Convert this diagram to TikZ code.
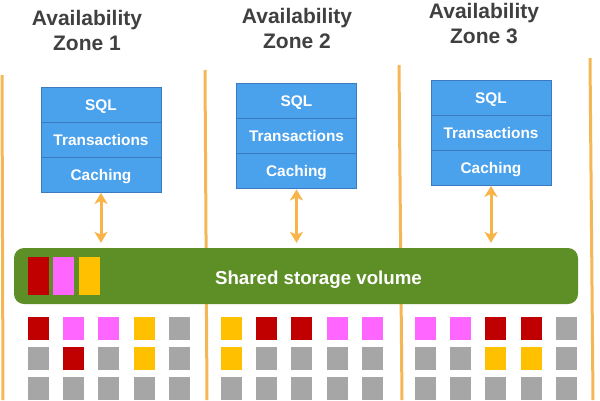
\documentclass[tikz,border=0pt]{standalone}
\usepackage{fontspec}
\setmainfont{Liberation Sans}
\usetikzlibrary{arrows.meta}
\definecolor{zoneorange}{RGB}{245,183,85}
\definecolor{arroworange}{RGB}{248,180,72}
\definecolor{layerblue}{RGB}{74,161,236}
\definecolor{layeredge}{RGB}{60,122,192}
\definecolor{barGreen}{RGB}{94,143,39}
\definecolor{cred}{RGB}{192,0,0}
\definecolor{cpink}{RGB}{255,102,255}
\definecolor{cyellow}{RGB}{255,192,0}
\definecolor{cgray}{RGB}{166,166,166}
\definecolor{titlegray}{RGB}{64,64,64}
\tikzset{
  zonetitle/.style={anchor=north, inner sep=0pt, align=center, text=titlegray,
    font=\fontsize{21}{25}\selectfont\bfseries},
  layer/.style={fill=layerblue, draw=layeredge, line width=0.8pt, minimum width=120pt,
    minimum height=35pt, inner sep=0pt, text height=11pt, text depth=0pt, text=white,
    font=\fontsize{15.4}{18}\selectfont\bfseries},
  zoneline/.style={draw=zoneorange, line width=3pt},
  biarrow/.style={draw=arroworange, line width=3pt,
    {Stealth[width=13pt,length=11pt,inset=3pt]}-{Stealth[width=13pt,length=11pt,inset=3pt]},
    shorten <=0.5pt, shorten >=5pt},
  bar/.style={fill=barGreen, rounded corners=10pt, minimum width=564pt, minimum height=56pt, inner sep=0pt},
  barlabel/.style={text=white, inner sep=0pt, font=\fontsize{18.7}{22}\selectfont\bfseries},
  blockcell/.style={minimum width=21pt, minimum height=38pt, inner sep=0pt},
  cell/.style={minimum width=21pt, minimum height=22.5pt, inner sep=0pt}
}
\begin{document}
\begin{tikzpicture}[x=1pt,y=-1pt]
\useasboundingbox (0,0) rectangle (600,400);
\clip (0,0) rectangle (600,400);
\fill[white] (0,0) rectangle (600,400);
% zone lines
\coordinate (l0a) at (2,75);   \coordinate (l0b) at (3,400);
\coordinate (l1a) at (205,70); \coordinate (l1b) at (207,400);
\coordinate (l2a) at (399,65); \coordinate (l2b) at (402,400);
\coordinate (l3a) at (590,58); \coordinate (l3b) at (593,400);
\foreach \i in {0,1,2,3} {\draw[zoneline] (l\i a) -- (l\i b);}
% titles
\node[zonetitle] (title1) at (87,10) {Availability\\Zone 1};
\node[zonetitle] (title2) at (297,8) {Availability\\Zone 2};
\node[zonetitle] (title3) at (484,3) {Availability\\Zone 3};
% bar
\node[bar] (bar) at (296,276) {};
\node[barlabel] (barlabel) at (318.5,280) {Shared storage volume};
\node[blockcell, fill=cred] (b1) at (38.5,276) {};
\node[blockcell, fill=cpink] (b2) at (63.5,276) {};
\node[blockcell, fill=cyellow] (b3) at (89,276) {};
% stacks
\foreach \z/\x/\t in {1/101/87, 2/296.5/83.5, 3/491/80} {
  \node[layer] (sql\z) at (\x,\t+17.5) {SQL};
  \node[layer] (tr\z) at (\x,\t+52.5) {Transactions};
  \node[layer] (ca\z) at (\x,\t+87.5) {Caching};
  \draw[biarrow] (ca\z.south) -- (ca\z.south |- bar.north);
}
% storage cells
\foreach \z/\xs/\ra/\rb in {
  1/28/{cred,cpink,cpink,cyellow,cgray}/{cgray,cred,cgray,cyellow,cgray},
  2/221/{cyellow,cred,cred,cpink,cpink}/{cyellow,cgray,cgray,cgray,cgray},
  3/415/{cpink,cpink,cred,cred,cgray}/{cgray,cgray,cyellow,cyellow,cgray}} {
  \foreach \c [count=\i from 0] in \ra {
    \node[cell, fill=\c] (c\z-1-\i) at (\xs+35.2*\i+10.5,328.25) {};
  }
  \foreach \c [count=\i from 0] in \rb {
    \node[cell, fill=\c] (c\z-2-\i) at (\xs+35.2*\i+10.5,358.25) {};
  }
  \foreach \i in {0,...,4} {
    \node[cell, fill=cgray] (c\z-3-\i) at (\xs+35.2*\i+10.5,388.25) {};
  }
}
\end{tikzpicture}
\end{document}
